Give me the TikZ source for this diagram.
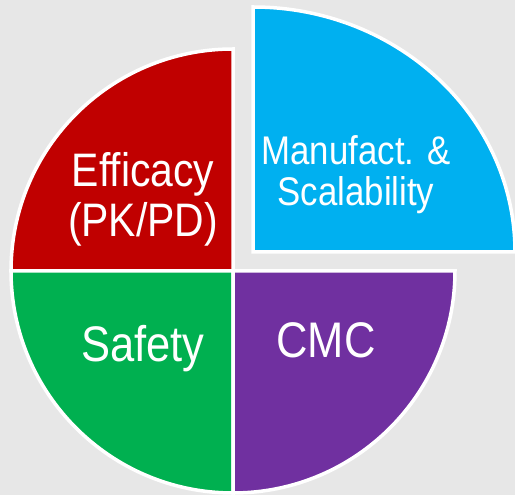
\documentclass[tikz,border=0pt]{standalone}
\usepackage[svgnames]{xcolor}
\usepackage{fontspec}
\setmainfont{Liberation Sans}
\newfontfamily\piefont{Liberation Sans}[FakeStretch=0.87]

\definecolor{pieBack}{HTML}{E7E7E7}
\definecolor{pieRed}{HTML}{C00000}
\definecolor{pieGreen}{HTML}{00B050}
\definecolor{pieViolet}{HTML}{7030A0}
\definecolor{pieBlue}{HTML}{00B0F0}

\tikzset{
  slice/.style={draw=white, line width=3.5pt, line join=miter},
  pielabel/.style={text=white, align=center, anchor=base, inner sep=0pt,
    font=\piefont\fontsize{47}{50}\selectfont},
}

\begin{document}
\begin{tikzpicture}[x=1pt,y=1pt]
\fill[pieBack] (0,0) rectangle (515,495);
\useasboundingbox (0,0) rectangle (515,495);

\coordinate (centre) at (233,224);
\coordinate (corner) at (253,243);

\foreach \start/\col in {90/pieRed,180/pieGreen,270/pieViolet} {
  \filldraw[slice, fill=\col] (centre) -- ++(\start:222)
    arc[start angle=\start, delta angle=90, radius=222] -- cycle;
}

% the pulled-out slice
\begin{scope}
\clip (0,0) rectangle (515,495);
\filldraw[slice, fill=pieBlue] (corner) -- ++(0,245)
  arc[start angle=90, end angle=0, x radius=262, y radius=245] -- cycle;
\end{scope}

\node[pielabel] (efficacy) at (143,258) {Efficacy\\(PK/PD)};
\node[pielabel, font=\piefont\fontsize{40}{41}\selectfont] (manufact) at (356,289) {Manufact. \&\\Scalability};
\node[pielabel, font=\piefont\fontsize{50}{50}\selectfont] (safety) at (143,133) {Safety};
\node[pielabel, font=\piefont\fontsize{50}{50}\selectfont] (cmc) at (326,137) {CMC};

\end{tikzpicture}
\end{document}
